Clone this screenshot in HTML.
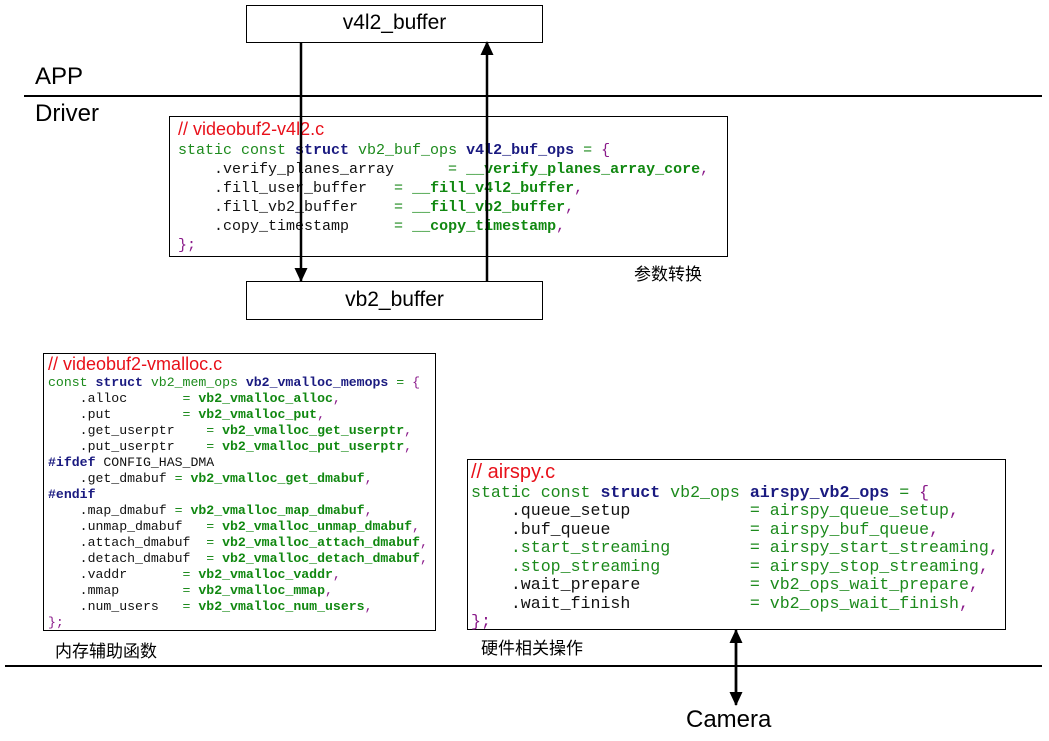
<!DOCTYPE html>
<html><head><meta charset="utf-8"><style>
body{margin:0;width:1049px;height:741px;background:#fff;position:relative;overflow:hidden;font-family:"Liberation Sans","Noto Sans CJK SC",sans-serif}
.a{position:absolute}
.box{position:absolute;border:1.5px solid #000;background:#fff;box-sizing:border-box}
.code{position:absolute;font-family:"Liberation Mono",monospace;white-space:pre;margin:0}
.r{color:#e8101a;font-family:"Liberation Sans",sans-serif}
.g{color:#1c8a1c}.k{color:#111}.b{color:#1a1a80;font-weight:bold}.gb{color:#118811;font-weight:bold}.p{color:#8a1a8a}
.cn{font-size:17px;position:absolute}
</style></head><body>
<div class="a" style="left:24px;top:95px;width:1018px;height:2px;background:#000"></div>
<div class="a" style="left:5px;top:665px;width:1037px;height:2px;background:#000"></div>
<div class="a" style="left:35px;top:63px;font-size:24px">APP</div>
<div class="a" style="left:35px;top:100px;font-size:24px">Driver</div>

<div class="box" style="left:246px;top:5px;width:297px;height:38px;text-align:center;font-size:21px;line-height:34px">v4l2_buffer</div>

<div class="box" style="left:169px;top:116px;width:559px;height:141px">
<pre class="code" style="left:8px;top:3px;font-size:15px;line-height:19px"><span class="r" style="font-size:18px">// videobuf2-v4l2.c</span>
<span class="g">static const </span><span class="b">struct</span><span class="g"> vb2_buf_ops </span><span class="b">v4l2_buf_ops</span><span class="g"> = </span><span class="p">{</span>
<span class="k">    .verify_planes_array      </span><span class="g">= </span><span class="gb">__verify_planes_array_core</span><span class="p">,</span>
<span class="k">    .fill_user_buffer   </span><span class="g">= </span><span class="gb">__fill_v4l2_buffer</span><span class="p">,</span>
<span class="k">    .fill_vb2_buffer    </span><span class="g">= </span><span class="gb">__fill_vb2_buffer</span><span class="p">,</span>
<span class="k">    .copy_timestamp     </span><span class="g">= </span><span class="gb">__copy_timestamp</span><span class="p">,</span>
<span class="p">};</span></pre>
</div>
<div class="cn" style="left:634px;top:260px">参数转换</div>

<div class="box" style="left:246px;top:281px;width:297px;height:39px;text-align:center;font-size:21px;line-height:36px">vb2_buffer</div>

<svg class="a" style="left:0;top:0" width="1049" height="741">
<defs><marker id="m" markerWidth="14" markerHeight="14" refX="13" refY="7" orient="auto" markerUnits="userSpaceOnUse"><path d="M0,0.5 L14,7 L0,13.5 z" fill="#000"/></marker></defs>
<line x1="301" y1="42" x2="301" y2="281" stroke="#000" stroke-width="2.5" marker-end="url(#m)"/>
<line x1="487" y1="281" x2="487" y2="42" stroke="#000" stroke-width="2.5" marker-end="url(#m)"/>
<line x1="736" y1="640" x2="736" y2="705" stroke="#000" stroke-width="2.5" marker-end="url(#m)"/>
<line x1="736" y1="695" x2="736" y2="630" stroke="#000" stroke-width="2.5" marker-end="url(#m)"/>
</svg>

<div class="box" style="left:43px;top:353px;width:393px;height:278px">
<pre class="code" style="left:4px;top:0px;font-size:13.2px;line-height:16px"><span class="r" style="font-size:18px;line-height:20px">// videobuf2-vmalloc.c</span>
<span class="g">const </span><span class="b">struct</span><span class="g"> vb2_mem_ops </span><span class="b">vb2_vmalloc_memops</span><span class="g"> = </span><span class="p">{</span>
<span class="k">    .alloc       </span><span class="g">= </span><span class="gb">vb2_vmalloc_alloc</span><span class="p">,</span>
<span class="k">    .put         </span><span class="g">= </span><span class="gb">vb2_vmalloc_put</span><span class="p">,</span>
<span class="k">    .get_userptr    </span><span class="g">= </span><span class="gb">vb2_vmalloc_get_userptr</span><span class="p">,</span>
<span class="k">    .put_userptr    </span><span class="g">= </span><span class="gb">vb2_vmalloc_put_userptr</span><span class="p">,</span>
<span class="b">#ifdef</span><span class="k"> CONFIG_HAS_DMA</span>
<span class="k">    .get_dmabuf </span><span class="g">= </span><span class="gb">vb2_vmalloc_get_dmabuf</span><span class="p">,</span>
<span class="b">#endif</span>
<span class="k">    .map_dmabuf </span><span class="g">= </span><span class="gb">vb2_vmalloc_map_dmabuf</span><span class="p">,</span>
<span class="k">    .unmap_dmabuf   </span><span class="g">= </span><span class="gb">vb2_vmalloc_unmap_dmabuf</span><span class="p">,</span>
<span class="k">    .attach_dmabuf  </span><span class="g">= </span><span class="gb">vb2_vmalloc_attach_dmabuf</span><span class="p">,</span>
<span class="k">    .detach_dmabuf  </span><span class="g">= </span><span class="gb">vb2_vmalloc_detach_dmabuf</span><span class="p">,</span>
<span class="k">    .vaddr       </span><span class="g">= </span><span class="gb">vb2_vmalloc_vaddr</span><span class="p">,</span>
<span class="k">    .mmap        </span><span class="g">= </span><span class="gb">vb2_vmalloc_mmap</span><span class="p">,</span>
<span class="k">    .num_users   </span><span class="g">= </span><span class="gb">vb2_vmalloc_num_users</span><span class="p">,</span>
<span class="p">};</span></pre>
</div>
<div class="cn" style="left:55px;top:637px">内存辅助函数</div>

<div class="box" style="left:467px;top:459px;width:539px;height:171px">
<pre class="code" style="left:3px;top:1px;font-size:16.6px;line-height:18.5px"><span class="r" style="font-size:20px;line-height:22px">// airspy.c</span>
<span class="g">static const </span><span class="b">struct</span><span class="g"> vb2_ops </span><span class="b">airspy_vb2_ops</span><span class="g"> = </span><span class="p">{</span>
<span class="k">    .queue_setup            </span><span class="g">= airspy_queue_setup</span><span class="p">,</span>
<span class="k">    .buf_queue              </span><span class="g">= airspy_buf_queue</span><span class="p">,</span>
<span class="g">    .start_streaming        = airspy_start_streaming</span><span class="p">,</span>
<span class="g">    .stop_streaming         = airspy_stop_streaming</span><span class="p">,</span>
<span class="k">    .wait_prepare           </span><span class="g">= vb2_ops_wait_prepare</span><span class="p">,</span>
<span class="k">    .wait_finish            </span><span class="g">= vb2_ops_wait_finish</span><span class="p">,</span>
<span class="p">};</span></pre>
</div>
<div class="cn" style="left:481px;top:634px">硬件相关操作</div>

<div class="a" style="left:686px;top:706px;font-size:24px">Camera</div>
</body></html>
